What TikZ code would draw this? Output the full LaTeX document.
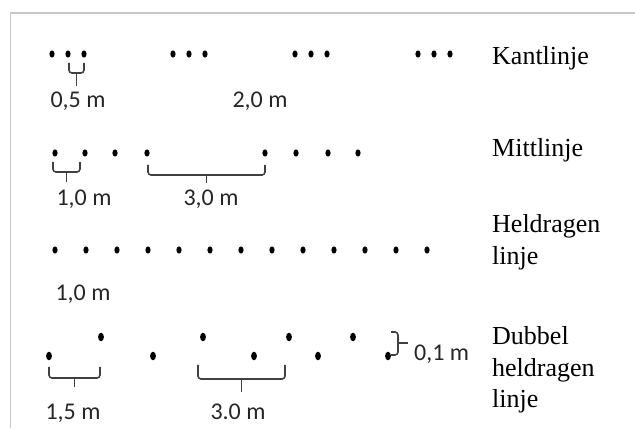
\documentclass[tikz,border=0pt]{standalone}
\usepackage{fontspec}
\setmainfont{Liberation Serif}
\newfontfamily\labelfont{Carlito}
\usetikzlibrary{calc}
\def\markdot(#1,#2){\fill (#1,#2) ellipse (2.6 and 3.6);}
\def\bigdot(#1,#2){\fill (#1,#2) ellipse (2.9 and 4.3);}
\def\spanbrace(#1:#2)(#3:#4)(#5){\draw[brace] (#1,#3) -- (#1,#4) -- (#2,#4) -- (#2,#3); \draw[brace] ($(#1,#4)!0.5!(#2,#4)$) -- ++(0,#5);}

\begin{document}
\begin{tikzpicture}[x=1pt, y=-1pt,
		brace/.style={line width=1.6pt, color=black!75, rounded corners=3pt},
		sidelabel/.style={anchor=base west, inner sep=0pt, font=\fontsize{26}{31}\selectfont},
		spanlabel/.style={anchor=base, inner sep=0pt, color=black!85, font=\labelfont\fontsize{24}{28}\selectfont}]
		%%%%% START %%%%%
		
		\useasboundingbox (0, 0) rectangle (635, 430);
		\draw[line width=1.5pt, color=black!22] (10.5, 428) -- (10.5, 13) -- (635, 13);
		
		% Kantlinje
		\foreach \g in {52, 173, 295, 418}
			\foreach \d in {0, 16, 32}
				{\markdot(\g+\d, 54)}
		\spanbrace(69:84)(63:73)(13)
		\node[spanlabel] (kant05) at (78, 108) {0,5 m};
		\node[spanlabel] (kant20) at (260, 108) {2,0 m};
		\node[sidelabel] (kant) at (492, 65) {Kantlinje};
		
		% Mittlinje
		\foreach \x in {55, 85, 115, 147, 265, 296, 328, 358}
			{\markdot(\x, 153)}
		\spanbrace(53:80)(162:172)(10)
		\spanbrace(148:265)(165:175)(8)
		\node[spanlabel] (mitt10) at (84, 206) {1,0 m};
		\node[spanlabel] (mitt30) at (211, 206) {3,0 m};
		\node[sidelabel] (mitt) at (492, 157) {Mittlinje};
		
		% Heldragen linje
		\foreach \i in {0,...,12}
			{\markdot(55+31*\i, 250)}
		\node[spanlabel] (held10) at (83, 301) {1,0 m};
		\node[sidelabel] (held) at (492, 233) {Heldragen};
		\node[sidelabel] (held2) at (492, 265) {linje};
		
		% Dubbel heldragen linje
		\foreach \x in {49, 153, 254, 318, 388}
			{\bigdot(\x, 356)}
		\foreach \x in {101, 203, 289, 353}
			{\bigdot(\x, 337)}
		\spanbrace(49:100)(367:378)(9)
		\spanbrace(198:285)(365:379)(13)
		\draw[brace] (391, 332) -- (398, 332) -- (398, 355) -- (391, 355);
		\draw[brace] (398, 343) -- (408, 343);
		\node[spanlabel] (dub15) at (73, 420) {1,5 m};
		\node[spanlabel] (dub30) at (238, 420) {3.0 m};
		\node[spanlabel, anchor=base west] (dub01) at (414, 361) {0,1 m};
		\node[sidelabel] (dub) at (492, 345) {Dubbel};
		\node[sidelabel] (dub2) at (492, 377) {heldragen};
		\node[sidelabel] (dub3) at (492, 407) {linje};
		
		%%%%% END %%%%%
	\end{tikzpicture}
\end{document}
